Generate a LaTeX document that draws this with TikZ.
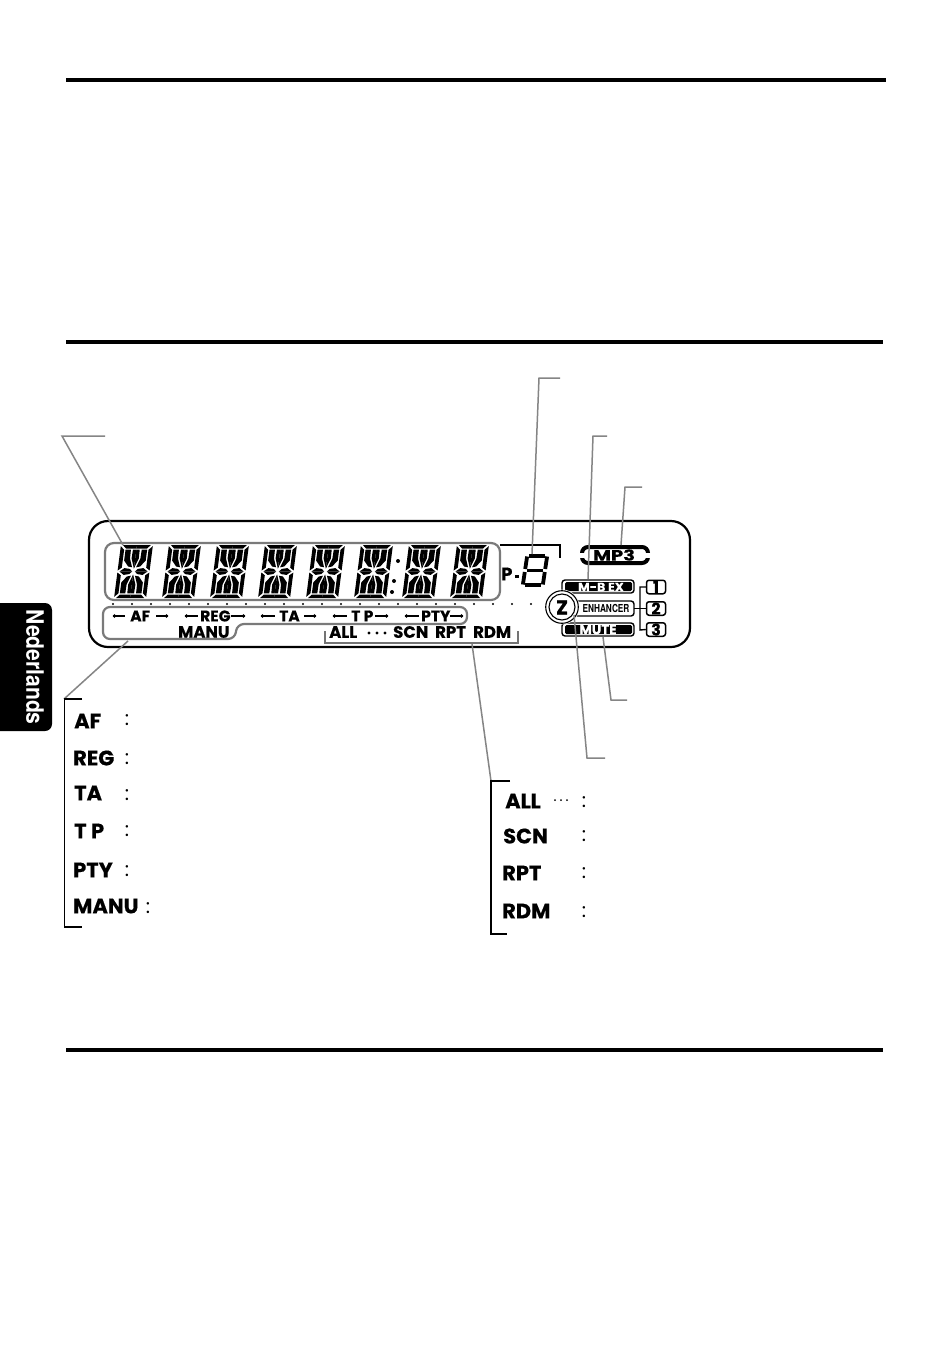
\documentclass[tikz,border=0pt]{standalone}
\usepackage{fontspec}
\setmainfont{Poppins}[BoldFeatures={FakeBold=0.35}]
\newfontfamily\hv{TeX Gyre Heros}
\tikzset{
  x=1pt,y=-1pt,
  rule/.style={line width=4pt,black},
  leader/.style={draw=black!48,line width=1.5pt,line join=miter},
  thin bracket/.style={draw=black,line width=1.1pt},
  frame/.style={draw=black!52,line width=2.2pt},
  lcd/.style={font=\bfseries\fontsize{15.5}{15.5}\selectfont,inner sep=0pt,anchor=west},
  lcdb/.style={font=\bfseries\fontsize{16.5}{16.5}\selectfont,inner sep=0pt,anchor=west},
  big/.style={font=\bfseries\fontsize{21}{21}\selectfont,inner sep=0pt,anchor=west},
  colon/.style={font=\fontsize{20}{20}\selectfont,inner sep=0pt},
  numbox/.style={draw=black,line width=1.5pt,rounded corners=2.5pt,minimum width=19pt,minimum height=13.5pt,inner sep=0pt,font=\bfseries\fontsize{16}{16}\selectfont},
  modebox/.style={draw=black,line width=1.4pt,rounded corners=3pt},
}
\newcommand{\quarterseg}{%
  \fill (-14,-26.5)--(0,-26.5)--(0,-23)--(-10.5,-23)--cycle;
  \fill (-16,-25.3)--(-12.2,-21.8)--(-12.2,-3.8)--(-16,-1)--cycle;
  \fill (-14,0)--(-9.5,-3.4)--(-4,-2.6)--(-1.4,0)--cycle;
  \fill (-3.4,-21.8)--(0,-21.8)--(0,-3)--(-3.6,-13)--cycle;
  \fill (-10.8,-21.8)--(-5.4,-21.8)--(-5.2,-13)--(-2,-4.2)--(-6,-5)--(-10.8,-11)--cycle;
}
\newcommand{\lcddigit}[1]{%
  \begin{scope}[shift={(#1,571.5)},xslant=0.13]
    \quarterseg
    \begin{scope}[xscale=-1]\quarterseg\end{scope}
    \begin{scope}[yscale=-1]\quarterseg\end{scope}
    \begin{scope}[xscale=-1,yscale=-1]\quarterseg\end{scope}
  \end{scope}}
\newcommand{\larr}[2]{\draw[line width=1.1pt] (#1,616)--(#2,616);\fill (#1+1.5,616) circle (1.8pt);}
\newcommand{\rarr}[2]{\draw[line width=1.1pt] (#1,616)--(#2,616);\fill (#2-1.5,616) circle (1.8pt);}
\begin{document}
\begin{tikzpicture}
\useasboundingbox (0,0) rectangle (950,1349);
\fill[white] (0,0) rectangle (950,1349);
% page rules
\coordinate (r1a) at (66,80); \coordinate (r1b) at (886,80);
\coordinate (r2a) at (66,342); \coordinate (r2b) at (883,342);
\coordinate (r3a) at (66,1050); \coordinate (r3b) at (883,1050);
\draw[rule] (r1a)--(r1b);
\draw[rule] (r2a)--(r2b);
\draw[rule] (r3a)--(r3b);
% language tab
\fill[black,rounded corners=7pt] (-10,603) rectangle (52,731);
\node[rotate=-90,text=white,inner sep=0pt,xscale=0.88,font=\hv\bfseries\fontsize{24}{24}\selectfont] (tab) at (35,667) {Nederlands};
% LCD outline
\draw[line width=2.2pt,rounded corners=19pt] (89,521) rectangle (690,647);
% segments
\foreach \x in {133.5,181.5,229.5,277.5,325.5,373.5,421.5,469.5}{\lcddigit{\x}}
\foreach \p in {(398,561),(394,581),(392,592)}{\fill \p circle (2pt);}
% dots row
\foreach \i in {0,...,22}{\fill (113+19*\i,604) circle (1.2pt);}
% frames
\draw[frame,rounded corners=9pt] (105,543) rectangle (500,600);
\draw[frame,rounded corners=7pt] (103,607)--(467,607)--(467,624)--(237,624)--(235,639)--(103,639)--cycle;
% ALL bracket
\draw[draw=black!55,line width=1.6pt] (325,631)--(325,643)--(518,643)--(518,631);
% P bracket
\draw[draw=black,line width=1.4pt] (500,545)--(560,545)--(560,558);
% lcd labels
\larr{113}{125}\node[lcd] (af) at (130,616) {AF};\rarr{156}{168}
\larr{185}{198}\node[lcd] (reg) at (200,616) {REG};\rarr{231}{245}
\larr{261}{275}\node[lcd] (ta) at (279,616) {TA};\rarr{304}{316}
\larr{333}{347}\node[lcd] (tp) at (351,616) {T P};\rarr{375}{388}
\larr{405}{419}\node[lcd] (pty) at (421,616) {PTY};\rarr{450}{463}
\node[lcdb] (manu) at (178,632) {MANU};
\node[lcdb] (all) at (329,632) {ALL};
\foreach \x in {369,377,385}{\fill (\x,633) circle (1.6pt);}
\node[lcdb] (scn) at (393,632) {SCN};
\node[lcdb] (rpt) at (435,632) {RPT};
\node[lcdb] (rdm) at (473,632) {RDM};
\node[inner sep=0pt,anchor=west,font=\bfseries\fontsize{18}{18}\selectfont] (pp) at (501,574) {P};
\fill (515,575) rectangle (519,577.5);
% seven segment digit
\begin{scope}[shift={(535,570.5)},xslant=0.15,line width=3.8pt,line cap=butt]
  \draw (-8,-14.5)--(8,-14.5);
  \draw (-8,0)--(8,0);
  \draw (-8,14.5)--(8,14.5);
  \draw (-10,-14)--(-10,-1.5);
  \draw (-10,1.5)--(-10,14);
  \draw (10,-14)--(10,-1.5);
  \draw (10,1.5)--(10,14);
\end{scope}
% MP3
\draw[line width=4pt,rounded corners=6pt] (582,547) rectangle (648,563);
\fill[white] (578,552.5) rectangle (652,557.5);
\fill[white] (592,549.5) rectangle (638,560.5);
\node[inner sep=0pt,xscale=1.3,font=\bfseries\fontsize{15}{15}\selectfont] (mp3) at (614,555) {MP3};
% mode boxes
\draw[modebox] (562,580) rectangle (634,593);
\fill[black,rounded corners=1.5pt] (565,582) rectangle (632,591);
\node[inner sep=0pt,text=white,xscale=1.05,font=\bfseries\fontsize{12}{12}\selectfont] (mbex) at (601,587) {M-B EX};
\draw[modebox] (562,601) rectangle (634,616);
\node[inner sep=0pt,xscale=0.75,font=\hv\bfseries\fontsize{11}{11}\selectfont] (enh) at (606,608.5) {ENHANCER};
\draw[modebox] (562,623) rectangle (634,636);
\fill[black,rounded corners=1.5pt] (565,625) rectangle (632,634);
\node[inner sep=0pt,text=white,font=\bfseries\fontsize{13.5}{13.5}\selectfont] (mute) at (598,629.5) {MUTE};
% Z
\fill[white] (562,607) circle (17.5pt);
\draw[line width=1.1pt] (562,607) circle (16.3pt);
\draw[line width=1.1pt] (562,607) circle (13pt);
\node[inner sep=0pt,font=\bfseries\fontsize{20}{20}\selectfont] (zz) at (562,607.5) {Z};
% number boxes
\node[numbox] (n1) at (656,587) {1};
\node[numbox] (n2) at (656,608.5) {2};
\node[numbox] (n3) at (656,629.5) {3};
\draw[line width=1.4pt] (634,608.5)--(n2.west);
\draw[line width=1.4pt] (n1.west)--(640,587)--(640,630)--(n3.west);
% leaders
\coordinate (d1) at (105,436);\coordinate (d2) at (62,436);\coordinate (d3) at (123,545);
\draw[leader] (d1)--(d2)--(d3);
\coordinate (e1) at (560,378);\coordinate (e2) at (539,378);\coordinate (e3) at (532,554);
\draw[leader] (e1)--(e2)--(e3);
\coordinate (f1) at (607,436);\coordinate (f2) at (593,436);\coordinate (f3) at (588,579);
\draw[leader] (f1)--(f2)--(f3);
\coordinate (g1) at (642,487);\coordinate (g2) at (625,487);\coordinate (g3) at (621,545);
\draw[leader] (g1)--(g2)--(g3);
\coordinate (h1) at (627,700);\coordinate (h2) at (611,700);\coordinate (h3) at (603,637);
\draw[leader] (h1)--(h2)--(h3);
\coordinate (i1) at (605,758);\coordinate (i2) at (587,758);\coordinate (i3) at (574,615);
\draw[leader] (i1)--(i2)--(i3);
\coordinate (j1) at (128,641);\coordinate (j2) at (64,699);
\draw[leader] (j1)--(j2);
\coordinate (k1) at (472,644);\coordinate (k2) at (491,781);
\draw[leader] (k1)--(k2);
% brackets
\draw[thin bracket] (82,699)--(64.5,699)--(64.5,927)--(82,927);
\draw[thin bracket] (510,781)--(491,781)--(491,934)--(507,934);
% lists
\node[big] (laf) at (74,721) {AF};
\node[big] (lreg) at (73,758) {REG};
\node[big] (lta) at (74,793) {TA};
\node[big] (ltp) at (74,831) {T P};
\node[big] (lpty) at (73,870) {PTY};
\node[big] (lmanu) at (73,906) {MANU};
\foreach \y/\x in {720/127,759/127,795/127,831/127,871/127,908/148}{\node[colon] at (\x,\y) {:};}
\node[big] (rall) at (505,801) {ALL};
\foreach \x in {555,561,567}{\fill (\x,800) circle (1pt);}
\node[big] (rscn) at (503,836) {SCN};
\node[big] (rrpt) at (502,873) {RPT};
\node[big] (rrdm) at (502,911) {RDM};
\foreach \y in {802,836,873,912}{\node[colon] at (584,\y) {:};}
\end{tikzpicture}
\end{document}
